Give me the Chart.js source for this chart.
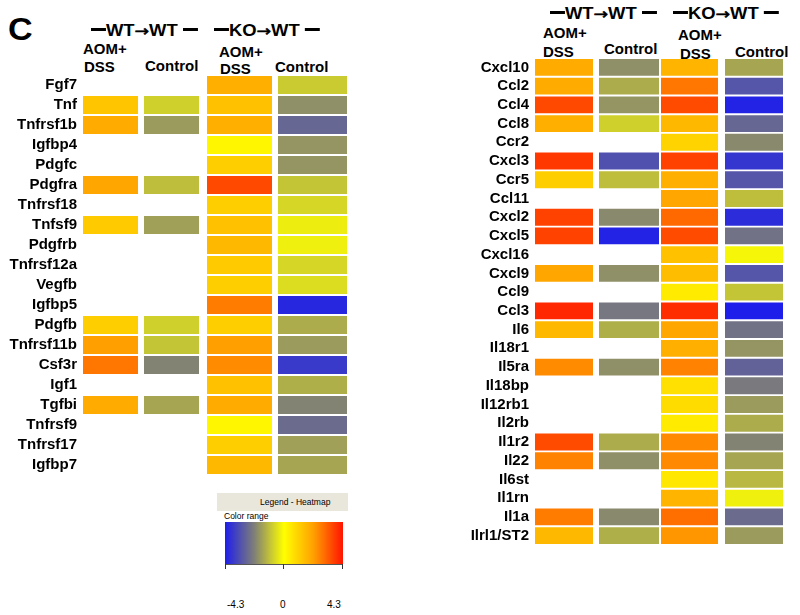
<!DOCTYPE html>
<html>
<head>
<meta charset="utf-8">
<script src="https://cdn.jsdelivr.net/npm/chart.js@4"></script>
<style>
  body { margin: 0; background: #fff; }
  #page { position: relative; width: 800px; height: 615px; font-family: "Liberation Sans", Arial, sans-serif; }
  canvas { position: absolute; }
  .t { position: absolute; font-weight: bold; font-size: 15px; color: #000; white-space: nowrap; line-height: 1; }
  .grp { font-size: 16px; transform: scaleX(1.15); transform-origin: left center; }
  .grp .arr { font-family: "DejaVu Sans", sans-serif; font-size: 15px; font-weight: normal; -webkit-text-stroke: 0.6px #000; }
  .grp .dash { display: inline-block; width: 13px; height: 3px; background: #000; vertical-align: 5px; }
  .lg { position: absolute; font-size: 8.5px; color: #000; white-space: nowrap; line-height: 1; }
</style>
</head>
<body>
<div id="page">
  <div class="t" style="left:8px;top:14px;font-size:31px;transform:scaleX(1.1);transform-origin:left;">C</div>

  <div class="t grp" style="left:91px;top:23px;"><span class="dash"></span>WT<span class="arr">&#8594;</span>WT <span class="dash"></span></div>
  <div class="t" style="left:83px;top:41px;">AOM+</div>
  <div class="t" style="left:84px;top:59px;">DSS</div>
  <div class="t" style="left:145px;top:58px;">Control</div>
  <div class="t grp" style="left:214px;top:23px;"><span class="dash"></span>KO<span class="arr">&#8594;</span>WT <span class="dash"></span></div>
  <div class="t" style="left:219px;top:44px;">AOM+</div>
  <div class="t" style="left:220px;top:61px;">DSS</div>
  <div class="t" style="left:275px;top:59px;">Control</div>

  <div class="t grp" style="left:550px;top:6px;"><span class="dash"></span>WT<span class="arr">&#8594;</span>WT <span class="dash"></span></div>
  <div class="t" style="left:543px;top:25px;">AOM+</div>
  <div class="t" style="left:543px;top:44px;">DSS</div>
  <div class="t" style="left:604px;top:41px;">Control</div>
  <div class="t grp" style="left:673px;top:6px;"><span class="dash"></span>KO<span class="arr">&#8594;</span>WT <span class="dash"></span></div>
  <div class="t" style="left:678px;top:27px;">AOM+</div>
  <div class="t" style="left:680px;top:46px;">DSS</div>
  <div class="t" style="left:735px;top:44px;">Control</div>

  <canvas id="leftMap" width="360" height="490" style="left:0;top:0;"></canvas>
  <canvas id="rightMap" width="340" height="560" style="left:460px;top:0;"></canvas>

  <div style="position:absolute;left:217px;top:493px;width:131px;height:18px;background:#e9e7dc;"></div>
  <div class="lg" style="left:260px;top:498px;">Legend - Heatmap</div>
  <div class="lg" style="left:224px;top:512px;">Color range</div>
  <div id="bar" style="position:absolute;left:225px;top:522px;width:118px;height:42px;"></div>
  <div style="position:absolute;left:225px;top:564px;width:118px;height:1px;background:#555;"></div>
  <div style="position:absolute;left:225px;top:564px;width:1px;height:5px;background:#333;"></div>
  <div style="position:absolute;left:283px;top:564px;width:1px;height:5px;background:#333;"></div>
  <div style="position:absolute;left:342px;top:564px;width:1px;height:5px;background:#333;"></div>
  <div class="lg" style="left:227px;top:600px;font-size:10px;">-4.3</div>
  <div class="lg" style="left:280px;top:600px;font-size:10px;">0</div>
  <div class="lg" style="left:327px;top:600px;font-size:10px;">4.3</div>
</div>

<script>
// colour scale, log ratio -4.3 .. 4.3
const scaleStops = [-4.3, -2.15, 0, 2.15, 4.3];
const scaleColors = [[30, 30, 235], [128, 128, 118], [255, 255, 0], [255, 160, 0], [255, 20, 0]];

// columns: WT->WT AOM+DSS, WT->WT Control, KO->WT AOM+DSS, KO->WT Control
const leftGenes = ["Fgf7", "Tnf", "Tnfrsf1b", "Igfbp4", "Pdgfc", "Pdgfra", "Tnfrsf18", "Tnfsf9", "Pdgfrb",
  "Tnfrsf12a", "Vegfb", "Igfbp5", "Pdgfb", "Tnfrsf11b", "Csf3r", "Igf1", "Tgfbi", "Tnfrsf9", "Tnfrsf17", "Igfbp7"];
const leftWtAom = [null, 1.3, 1.9, null, null, 2.0, null, 1.2, null, null, null, null, 1.1, 2.15, 2.8, null, 1.9, null, null, null];
const leftWtCtrl = [null, -0.8, -1.7, null, null, -1.1, null, -1.6, null, null, null, null, -0.8, -1.0, -2.1, null, -1.5, null, null, null];
const leftKoAom = [1.8, 1.4, 1.8, 0.2, 1.1, 3.5, 1.1, 1.4, 1.6, 1.2, 1.1, 2.7, 1.1, 2.15, 2.45, 1.4, 1.9, 0.2, 1.1, 1.6];
const leftKoCtrl = [-0.9, -1.9, -2.7, -1.8, -1.8, -1.0, -0.7, -0.3, -0.25, -0.7, -0.6, -4.1, -1.4, -1.7, -3.7, -1.35, -2.1, -2.6, -1.6, -1.5];

const rightGenes = ["Cxcl10", "Ccl2", "Ccl4", "Ccl8", "Ccr2", "Cxcl3", "Ccr5", "Ccl11", "Cxcl2", "Cxcl5", "Cxcl16",
  "Cxcl9", "Ccl9", "Ccl3", "Il6", "Il18r1", "Il5ra", "Il18bp", "Il12rb1", "Il2rb", "Il1r2", "Il22", "Il6st", "Il1rn", "Il1a", "Ilrl1/ST2"];
const rightWtAom = [1.9, 1.9, 3.5, 1.8, null, 3.75, 1.1, null, 3.6, 3.6, null, 2.0, null, 4.0, 1.6, null, 2.45, null, null, null, 3.45, 2.6, null, null, 2.7, 1.6];
const rightWtCtrl = [-1.9, -1.4, -1.8, -0.8, null, -3.2, -1.1, null, -2.0, -4.2, null, -1.9, null, -2.35, -1.35, null, -1.9, null, null, null, -1.4, -1.9, null, null, -2.0, -1.35];
const rightKoAom = [1.7, 2.8, 3.45, 1.6, 1.0, 3.6, 1.8, 2.0, 3.0, 3.45, 1.4, 1.5, 0.45, 3.9, 2.0, 1.8, 2.6, 0.7, 0.8, 0.45, 2.5, 2.5, 0.55, 1.7, 2.9, 2.3];
const rightKoCtrl = [-1.5, -3.1, -4.2, -2.7, -2.0, -3.8, -3.1, -1.1, -4.0, -2.45, -0.15, -3.1, -1.0, -4.3, -2.45, -1.8, -2.8, -2.3, -1.7, -1.4, -2.1, -1.5, -1.2, -0.25, -2.6, -1.7];

function heatColor(v) {
  if (v <= scaleStops[0]) return "rgb(" + scaleColors[0].join(",") + ")";
  for (let i = 1; i < scaleStops.length; i++) {
    if (v <= scaleStops[i]) {
      const t = (v - scaleStops[i - 1]) / (scaleStops[i] - scaleStops[i - 1]);
      const a = scaleColors[i - 1], b = scaleColors[i];
      return "rgb(" + a.map((c, k) => Math.round(c + (b[k] - c) * t)).join(",") + ")";
    }
  }
  return "rgb(" + scaleColors[scaleColors.length - 1].join(",") + ")";
}

document.getElementById("bar").style.background = "linear-gradient(to right, " +
  scaleColors.map((c, i) => "rgb(" + c.join(",") + ") " + (i * 25) + "%").join(", ") + ")";

function heatmap(id, genes, columns, spans, axisWidth, padding) {
  const datasets = columns.map((vals, c) => ({
    data: vals.map((v) => (v === null ? null : spans[c])),
    backgroundColor: vals.map((v) => (v === null ? "transparent" : heatColor(v))),
    stack: "cells",
    barPercentage: 0.9,
    categoryPercentage: 1,
  }));
  new Chart(document.getElementById(id), {
    type: "bar",
    data: { labels: genes, datasets: datasets },
    options: {
      indexAxis: "y",
      responsive: false,
      animation: false,
      layout: { padding: padding },
      plugins: { legend: { display: false }, tooltip: { enabled: false } },
      scales: {
        x: { display: false, stacked: false, min: 0, max: spans[3][1] },
        y: {
          stacked: true,
          grid: { display: false, drawTicks: false },
          border: { display: false },
          ticks: { color: "#000", padding: 6, autoSkip: false, font: { family: "'Liberation Sans', Arial", size: 15, weight: "bold" } },
          afterFit: (s) => { s.width = axisWidth; },
        },
      },
    },
  });
}

heatmap("leftMap", leftGenes, [leftWtAom, leftWtCtrl, leftKoAom, leftKoCtrl],
  [[0, 55], [61, 116], [124, 189], [195, 264]], 83, { top: 75, bottom: 12, right: 13 });
heatmap("rightMap", rightGenes, [rightWtAom, rightWtCtrl, rightKoAom, rightKoCtrl],
  [[0, 58], [64, 124], [126, 183], [190, 248]], 75, { top: 58, bottom: 14, right: 17 });
</script>
</body>
</html>
